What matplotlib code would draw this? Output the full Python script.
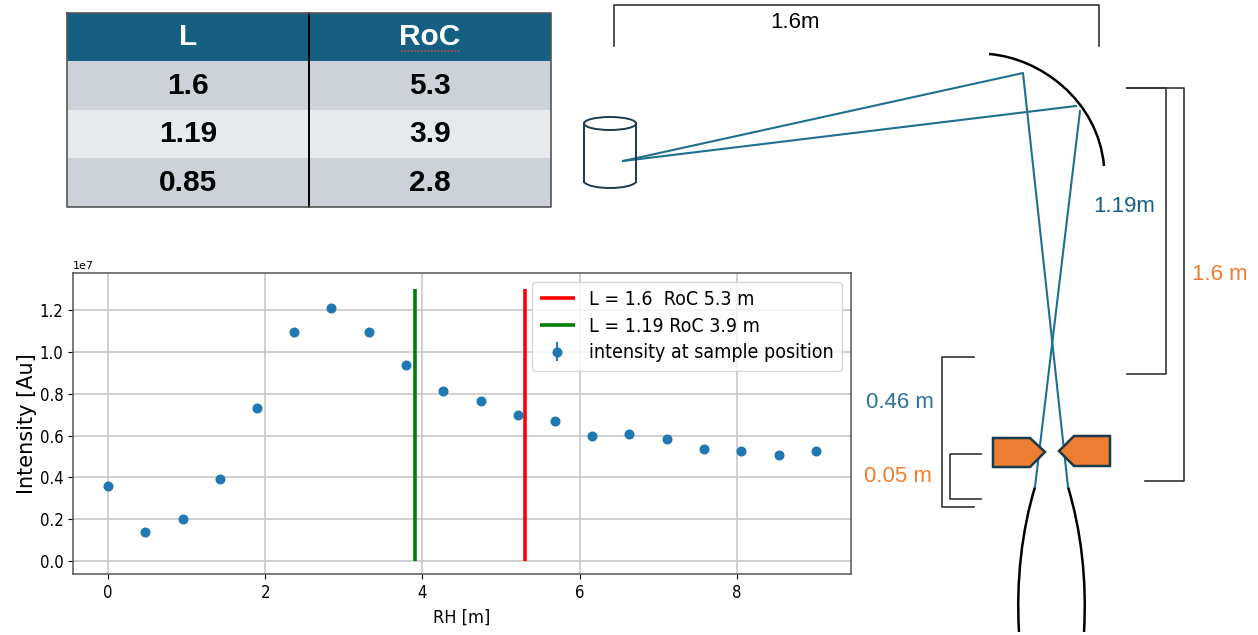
import matplotlib
matplotlib.use('Agg')
import matplotlib.pyplot as plt
from matplotlib.patches import PathPatch, Polygon, Ellipse
from matplotlib.path import Path

# table
table_cols = ['L', 'RoC']
table_L = ['1.6', '1.19', '0.85']
table_RoC = ['5.3', '3.9', '2.8']

# scan data
rh = [0, 0.47, 0.95, 1.42, 1.89, 2.37, 2.84, 3.32, 3.79, 4.26,
      4.74, 5.21, 5.68, 6.16, 6.63, 7.11, 7.58, 8.05, 8.53, 9.0]
intensity = [3.6e6, 1.37e6, 2.0e6, 3.9e6, 7.32e6, 10.97e6, 12.1e6, 10.97e6, 9.37e6, 8.13e6,
             7.64e6, 7.0e6, 6.68e6, 6.0e6, 6.08e6, 5.82e6, 5.36e6, 5.27e6, 5.08e6, 5.27e6]
intensity_err = [1.5e5, 1.2e5, 1.2e5, 1.4e5, 1.8e5, 1.5e5, 1.5e5, 1.5e5, 1.6e5, 1.6e5,
                 1.7e5, 1.5e5, 1.7e5, 1.5e5, 1.5e5, 1.6e5, 1.7e5, 1.6e5, 1.5e5, 1.6e5]
roc_16 = 5.3
roc_119 = 3.9
line_top = 1.3e7

W, H = 1258, 635
BLUE = '#156082'
LIGHT_BLUE = '#2A7398'
ORANGE = '#ED7D31'
DARK = '#1B3A4B'

fig = plt.figure(figsize=(W / 100, H / 100), dpi=100)


def px_axes(left, top, right, bottom):
    return fig.add_axes([left / W, 1 - bottom / H, (right - left) / W, (bottom - top) / H])


# table top left
ax_t = px_axes(67, 13, 551, 207)
ax_t.axis('off')
rows = [[a, b] for a, b in zip(table_L, table_RoC)]
tab = ax_t.table(cellText=rows, colLabels=table_cols, cellLoc='center', bbox=[0, 0, 1, 1])
tab.auto_set_font_size(False)
for (r, c), cell in tab.get_celld().items():
    cell.set_linewidth(0)
    if r == 0:
        cell.set_facecolor(BLUE)
        cell.get_text().set_color('white')
    else:
        cell.set_facecolor('#E7EAED' if r == 2 else '#CCD2D8')
    cell.get_text().set_fontsize(21.5)
    cell.get_text().set_fontfamily('Liberation Sans')
    cell.get_text().set_fontweight('bold')

# chart
ax = px_axes(73, 273, 851, 574)
ax.errorbar(rh, intensity, yerr=intensity_err, fmt='o', ms=6.2, color='tab:blue',
            label='intensity at sample position')
ax.vlines(roc_16, 0, line_top, color='red', lw=2.6, label='L = 1.6  RoC 5.3 m')
ax.vlines(roc_119, 0, line_top, color='green', lw=2.6, label='L = 1.19 RoC 3.9 m')
ax.set_xlim(-0.445, 9.45)
ax.set_ylim(-0.062e7, 1.377e7)
ax.set_xticks([0, 2, 4, 6, 8])
ax.set_yticks([0, 0.2e7, 0.4e7, 0.6e7, 0.8e7, 1.0e7, 1.2e7])
ax.grid(True, color='#c4c4c4', lw=1.1)
ax.tick_params(labelsize=12)
for t in ax.get_xticklabels() + ax.get_yticklabels():
    t.set_fontstretch('condensed')
ax.yaxis.get_offset_text().set_fontsize(8)
ax.set_xlabel('RH [m]', fontsize=13, fontstretch='condensed', labelpad=5)
ax.set_ylabel('Intensity [Au]', fontsize=15, labelpad=2)
for s in ax.spines.values():
    s.set_color('#555555')
    s.set_linewidth(1.1)
ax.legend(loc='upper right', prop={'size': 14, 'stretch': 'condensed'}, bbox_to_anchor=(1.0, 1.0),
          borderaxespad=0.45, labelspacing=0.4, handlelength=1.8, handletextpad=0.75, borderpad=0.42)

# schematic on top, pixel coordinates
ov = fig.add_axes([0, 0, 1, 1], facecolor='none')
ov.set_xlim(0, W)
ov.set_ylim(H, 0)
ov.axis('off')

# table lines
ov.plot([309, 309], [13, 207], color='black', lw=1.4)
ov.plot([67, 551, 551, 67, 67], [13, 13, 207, 207, 13], color='#555555', lw=1.2)
ov.plot([401, 461], [51, 51], color='#C0504D', lw=1.2, ls=(0, (1, 1)))


def curve(p0, p1, p2, p3, color='black', lw=1.8):
    path = Path([p0, p1, p2, p3], [Path.MOVETO, Path.CURVE4, Path.CURVE4, Path.CURVE4])
    ov.add_patch(PathPatch(path, fc='none', ec=color, lw=lw))


# mirror and capillary
curve((989, 54), (1040, 58), (1098, 100), (1104, 166))
curve((1035, 487), (1022, 530), (1016, 580), (1019, 632))
curve((1068, 487), (1081, 530), (1087, 580), (1084, 632))

# rays
ray = '#1F6F8F'
ov.plot([623, 1023, 1068], [161, 73, 487], color=ray, lw=1.5)
ov.plot([623, 1076], [161, 106], color=ray, lw=1.5)
ov.plot([1080, 1035], [111, 487], color=ray, lw=1.5)

# source cylinder
ov.plot([584, 584], [123, 182], color=DARK, lw=1.4)
ov.plot([636, 636], [123, 182], color=DARK, lw=1.4)
ov.add_patch(Ellipse((610, 123.5), 52, 13, fc='white', ec=DARK, lw=1.4, zorder=1))
curve((584, 182), (590, 190), (630, 190), (636, 182), color=DARK, lw=1.4)

# pole tips
ov.add_patch(Polygon([(993, 438), (1030, 438), (1045, 452), (1030, 467), (993, 467)],
                     fc=ORANGE, ec=DARK, lw=1.8, zorder=3))
ov.add_patch(Polygon([(1110, 436), (1074, 436), (1059, 451), (1074, 466), (1110, 466)],
                     fc=ORANGE, ec=DARK, lw=1.8, zorder=3))

# brackets
br = '#333333'
ov.plot([614, 614, 1099, 1099], [46, 5, 5, 46], color=br, lw=1.2)
ov.plot([1127, 1166, 1166, 1127], [88, 88, 374, 374], color=br, lw=1.2)
ov.plot([1127, 1184, 1184, 1145], [88, 88, 481, 481], color=br, lw=1.2)
ov.plot([974, 942, 942, 974], [357, 357, 507, 507], color=br, lw=1.2)
ov.plot([981, 950, 950, 981], [454, 454, 499, 499], color=br, lw=1.2)

# labels
lab = dict(fontfamily='Liberation Sans', fontsize=16, ha='center', va='center')
ov.text(795, 23, '1.6m', color='black', **lab)
ov.text(1124, 207, '1.19m', color=BLUE, **lab)
ov.text(1220, 275, '1.6 m', color=ORANGE, **lab)
ov.text(900, 402, '0.46 m', color=LIGHT_BLUE, **lab)
ov.text(898, 476, '0.05 m', color=ORANGE, **lab)

fig.savefig('out.png', dpi=100)
